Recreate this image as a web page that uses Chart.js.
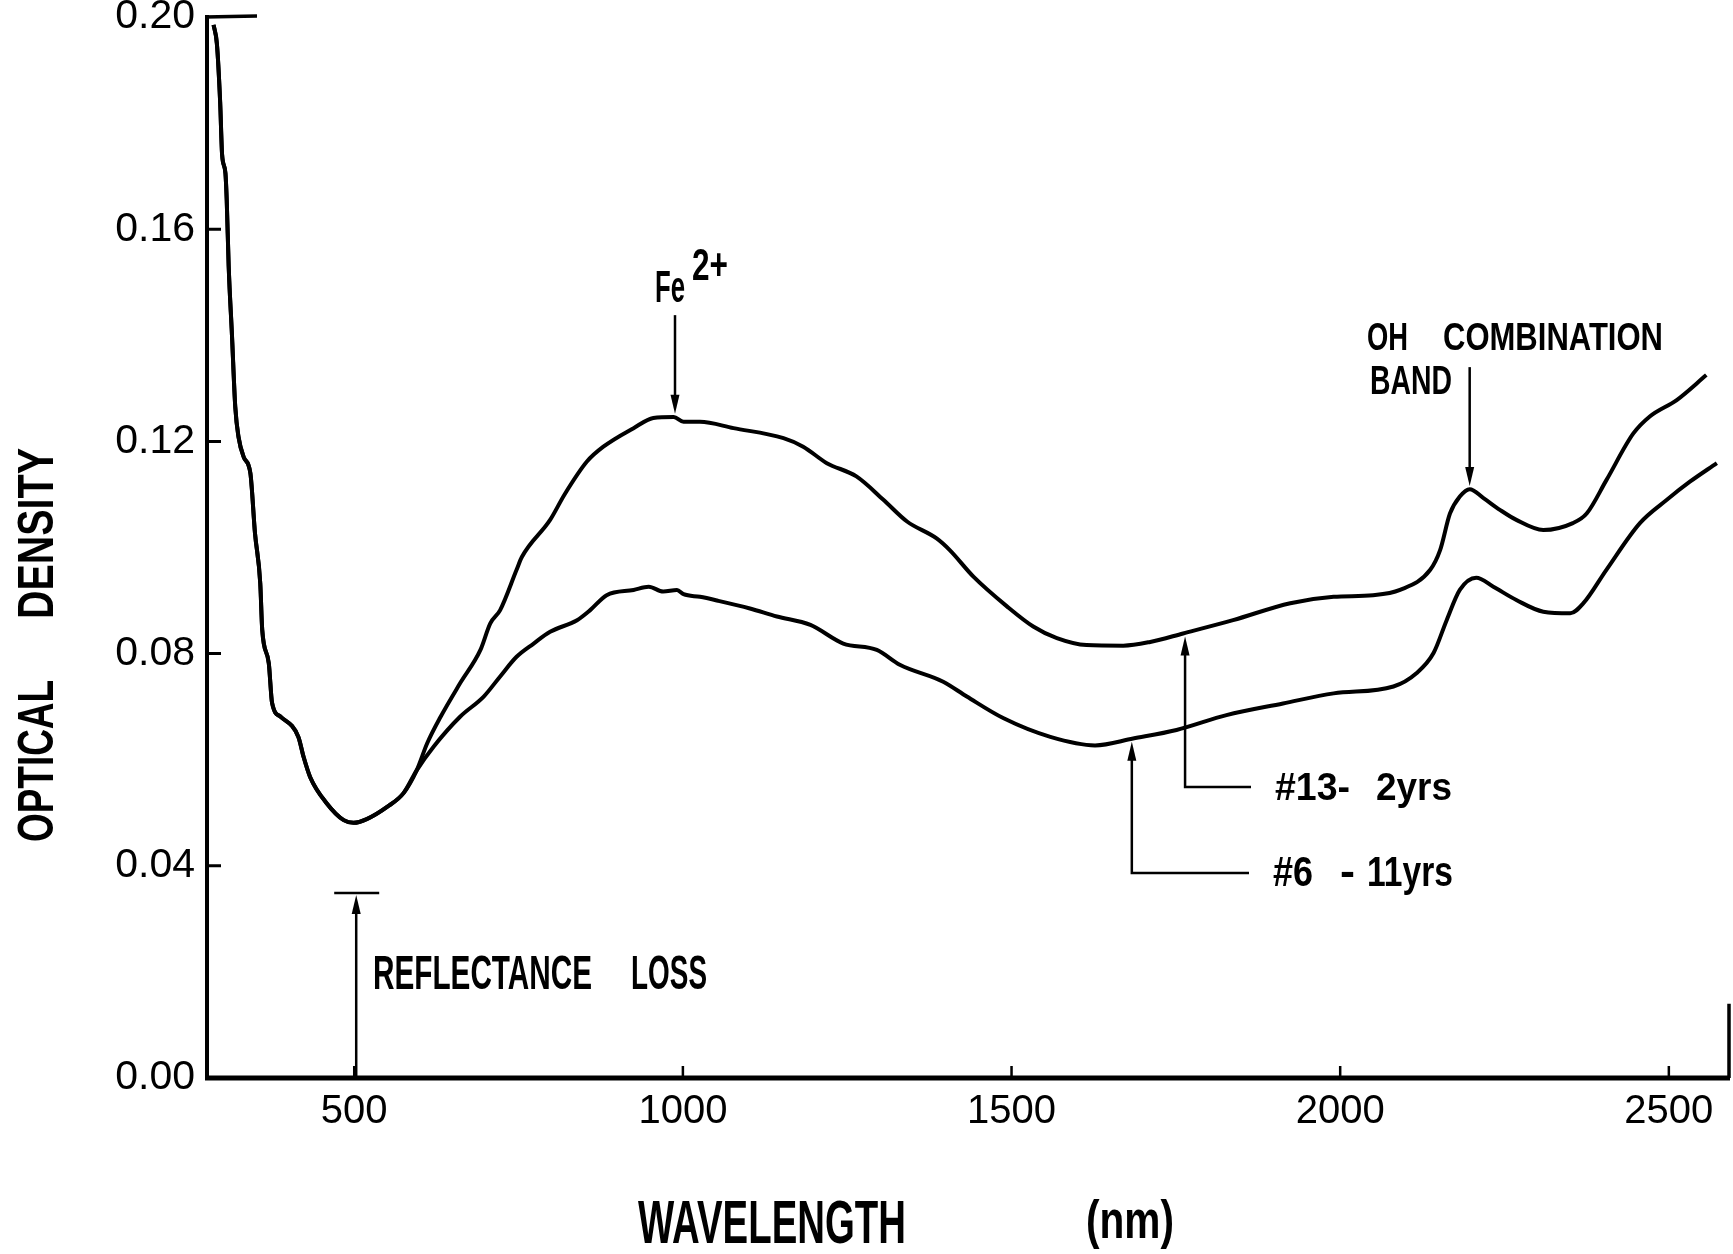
<!DOCTYPE html>
<html>
<head>
<meta charset="utf-8">
<script src="https://cdn.jsdelivr.net/npm/chart.js@4.4.1/dist/chart.umd.min.js"></script>
<style>
  body { margin: 0; background: #fff; }
  canvas { display: block; background: #fff; }
</style>
</head>
<body>
<canvas id="myChart" width="1733" height="1254"></canvas>
<script>
// wavelength (nm) / optical density
// both samples share the same trace up to about 600 nm
const sharedWavelength = [286, 291, 296, 299, 304, 306, 309, 314, 319, 324, 332, 342, 349, 357, 360, 370, 375, 388, 415, 423, 433, 458, 484, 499, 519, 550, 575, 595];
const sharedDensity = [0.1985, 0.195, 0.184, 0.174, 0.1706, 0.1655, 0.153, 0.140, 0.1265, 0.1208, 0.117, 0.114, 0.1027, 0.0933, 0.0845, 0.0782, 0.0707, 0.0681, 0.0643, 0.0605, 0.0567, 0.0518, 0.0486, 0.0481, 0.0488, 0.0511, 0.0537, 0.058];

// #13 - 2 yrs
const yrs2Wavelength = [611, 631, 661, 692, 707, 722, 747, 755, 798, 820, 854, 879, 925, 955, 986, 1001, 1026, 1077, 1153, 1183, 1219, 1264, 1305, 1341, 1386, 1406, 1442, 1493, 1533, 1569, 1614, 1670, 1711, 1761, 1837, 1924, 1990, 2050, 2091, 2137, 2152, 2167, 2182, 2197, 2218, 2243, 2268, 2309, 2354, 2375, 2405, 2446, 2471, 2512, 2557];
const yrs2Density = [0.0631, 0.068, 0.0744, 0.0807, 0.0857, 0.0882, 0.0958, 0.0982, 0.1052, 0.110, 0.1162, 0.119, 0.1225, 0.1244, 0.1246, 0.1237, 0.1237, 0.1225, 0.1206, 0.119, 0.1159, 0.1134, 0.109, 0.1049, 0.1017, 0.0995, 0.0945, 0.0889, 0.0851, 0.0829, 0.0816, 0.0815, 0.0822, 0.0838, 0.0863, 0.0895, 0.0907, 0.091, 0.092, 0.0958, 0.0995, 0.1064, 0.1096, 0.111, 0.1093, 0.1071, 0.1052, 0.1033, 0.1046, 0.1064, 0.1127, 0.1215, 0.1247, 0.1278, 0.1325];

// #6 - 11 yrs
const yrs11Wavelength = [621, 661, 697, 722, 747, 773, 798, 839, 859, 884, 925, 948, 970, 991, 1001, 1026, 1052, 1102, 1143, 1194, 1244, 1295, 1330, 1396, 1432, 1488, 1559, 1627, 1685, 1751, 1827, 1913, 1990, 2081, 2116, 2142, 2162, 2182, 2207, 2233, 2268, 2309, 2350, 2370, 2405, 2456, 2497, 2532, 2573];
const yrs11Density = [0.0625, 0.0681, 0.0719, 0.0757, 0.0794, 0.0819, 0.0841, 0.0863, 0.0882, 0.091, 0.092, 0.0926, 0.0917, 0.092, 0.0912, 0.0907, 0.09, 0.0885, 0.087, 0.0854, 0.0819, 0.0807, 0.0779, 0.0747, 0.0719, 0.0678, 0.0643, 0.0627, 0.064, 0.0656, 0.0684, 0.0706, 0.0725, 0.0738, 0.0763, 0.0801, 0.0863, 0.092, 0.0943, 0.0926, 0.0901, 0.0879, 0.0876, 0.0895, 0.0958, 0.1046, 0.109, 0.1124, 0.1159];

const xTickValues = [500, 1000, 1500, 2000, 2500];
const yTickValues = [0, 0.04, 0.08, 0.12, 0.16, 0.20];

const toPoints = (xs, ys) => xs.map((x, i) => ({ x: x, y: ys[i] }));
const FONT = '"Liberation Sans", Arial, sans-serif';

// squeeze text to a given width, the original lettering is very condensed
function condensed(ctx, text, x, y, size, width, bold) {
  ctx.save();
  ctx.font = (bold ? 'bold ' : '') + size + 'px ' + FONT;
  const w = ctx.measureText(text).width;
  ctx.translate(x, y);
  ctx.scale(width / w, 1);
  ctx.textBaseline = 'alphabetic';
  ctx.textAlign = 'left';
  ctx.fillText(text, 0, 0);
  ctx.restore();
}

function arrowHead(ctx, x, tipY, dir) {
  // dir 1 = pointing down, -1 = pointing up
  ctx.beginPath();
  ctx.moveTo(x, tipY);
  ctx.lineTo(x - 4.5, tipY - dir * 19);
  ctx.lineTo(x + 4.5, tipY - dir * 19);
  ctx.closePath();
  ctx.fill();
}

const notes = {
  id: 'notes',
  afterDraw(chart) {
    const ctx = chart.ctx;
    const xs = chart.scales.x, ys = chart.scales.y;
    const a = chart.chartArea;
    ctx.save();
    ctx.strokeStyle = '#000';
    ctx.fillStyle = '#000';
    ctx.lineCap = 'butt';

    // axes
    ctx.lineWidth = 4;
    ctx.beginPath();
    ctx.moveTo(a.left, a.top - 2);
    ctx.lineTo(a.left, a.bottom + 2);
    ctx.stroke();
    ctx.lineWidth = 5;
    ctx.beginPath();
    ctx.moveTo(a.left - 2, a.bottom);
    ctx.lineTo(a.right + 2, a.bottom);
    ctx.stroke();
    // top bar at 0.20 and small right edge stub
    ctx.lineWidth = 3.5;
    ctx.beginPath();
    ctx.moveTo(a.left - 2, ys.getPixelForValue(0.2));
    ctx.lineTo(a.left + 50, ys.getPixelForValue(0.2) - 1);
    ctx.moveTo(a.right + 1, a.bottom);
    ctx.lineTo(a.right + 1, ys.getPixelForValue(0.014));
    ctx.stroke();

    // inward tick marks
    ctx.lineWidth = 3;
    ctx.beginPath();
    yTickValues.filter(v => v > 0 && v < 0.2).forEach(v => {
      const py = ys.getPixelForValue(v);
      ctx.moveTo(a.left, py);
      ctx.lineTo(a.left + 14, py);
    });
    ctx.stroke();
    ctx.lineWidth = 2.5;
    ctx.beginPath();
    xTickValues.forEach(v => {
      const px = xs.getPixelForValue(v);
      ctx.moveTo(px, a.bottom);
      ctx.lineTo(px, a.bottom - 12);
    });
    ctx.stroke();

    ctx.lineWidth = 2.5;
    // Fe2+ arrow
    let ax = xs.getPixelForValue(988);
    let tip = ys.getPixelForValue(0.1252);
    ctx.beginPath();
    ctx.moveTo(ax, ys.getPixelForValue(0.1438));
    ctx.lineTo(ax, tip - 10);
    ctx.stroke();
    arrowHead(ctx, ax, tip, 1);
    condensed(ctx, 'Fe', 655, 302, 44, 30, true);
    condensed(ctx, '2+', 692, 280, 44, 36, true);

    // OH combination band arrow
    ax = xs.getPixelForValue(2197);
    tip = ys.getPixelForValue(0.1116);
    ctx.beginPath();
    ctx.moveTo(ax, ys.getPixelForValue(0.134));
    ctx.lineTo(ax, tip - 10);
    ctx.stroke();
    arrowHead(ctx, ax, tip, 1);
    condensed(ctx, 'OH', 1367, 350, 38, 41, true);
    condensed(ctx, 'COMBINATION', 1443, 350, 38, 220, true);
    condensed(ctx, 'BAND', 1370, 394, 40, 82, true);

    // reflectance loss
    ax = xs.getPixelForValue(503);
    tip = ys.getPixelForValue(0.0345);
    ctx.beginPath();
    ctx.moveTo(ax, a.bottom);
    ctx.lineTo(ax, tip + 10);
    ctx.moveTo(ax - 22, tip - 2);
    ctx.lineTo(ax + 23, tip - 2);
    ctx.stroke();
    arrowHead(ctx, ax, tip, -1);
    condensed(ctx, 'REFLECTANCE', 373, 989, 48, 219, true);
    condensed(ctx, 'LOSS', 631, 989, 48, 76, true);

    // #13 leader
    ax = xs.getPixelForValue(1764);
    tip = ys.getPixelForValue(0.0832);
    ctx.beginPath();
    ctx.moveTo(ax, tip + 10);
    ctx.lineTo(ax, 787);
    ctx.lineTo(1251, 787);
    ctx.stroke();
    arrowHead(ctx, ax, tip, -1);
    condensed(ctx, '#13-', 1275, 800, 39, 75, true);
    condensed(ctx, '2yrs', 1376, 800, 39, 76, true);

    // #6 leader
    ax = xs.getPixelForValue(1683);
    tip = ys.getPixelForValue(0.0634);
    ctx.beginPath();
    ctx.moveTo(ax, tip + 10);
    ctx.lineTo(ax, 873);
    ctx.lineTo(1249, 873);
    ctx.stroke();
    arrowHead(ctx, ax, tip, -1);
    condensed(ctx, '#6', 1273, 886, 43, 40, true);
    condensed(ctx, '-', 1340, 886, 43, 15, true);
    condensed(ctx, '11yrs', 1367, 886, 43, 86, true);

    // axis titles
    condensed(ctx, 'WAVELENGTH', 638, 1243, 61, 268, true);
    condensed(ctx, '(nm)', 1086, 1238, 54, 88, true);
    ctx.save();
    ctx.translate(53, 842);
    ctx.rotate(-Math.PI / 2);
    condensed(ctx, 'OPTICAL', 0, 0, 50, 162, true);
    condensed(ctx, 'DENSITY', 842 - 619, 0, 50, 171, true);
    ctx.restore();

    ctx.restore();
  }
};

new Chart(document.getElementById('myChart'), {
  type: 'line',
  data: {
    datasets: [{
      label: '#13 - 2 yrs',
      data: toPoints(sharedWavelength.concat(yrs2Wavelength), sharedDensity.concat(yrs2Density)),
      borderColor: '#000',
      borderWidth: 4,
      pointRadius: 0,
      fill: false,
      cubicInterpolationMode: 'monotone'
    }, {
      label: '#6 - 11 yrs',
      data: toPoints(sharedWavelength.concat(yrs11Wavelength), sharedDensity.concat(yrs11Density)),
      borderColor: '#000',
      borderWidth: 4,
      pointRadius: 0,
      fill: false,
      cubicInterpolationMode: 'monotone'
    }]
  },
  options: {
    responsive: false,
    animation: false,
    layout: { padding: { top: 17, right: 5, left: 0, bottom: 0 } },
    plugins: { legend: { display: false }, tooltip: { enabled: false } },
    scales: {
      x: {
        type: 'linear',
        min: 276,
        max: 2590,
        afterFit: s => { s.height = 176; s.paddingLeft = 0; s.paddingRight = 0; },
        afterBuildTicks: s => { s.ticks = xTickValues.map(v => ({ value: v })); },
        grid: { display: false, drawTicks: false },
        border: { display: false },
        ticks: { color: '#000', padding: 10, font: { family: FONT, size: 40 }, maxRotation: 0, callback: v => String(v) }
      },
      y: {
        min: 0,
        max: 0.2,
        afterFit: s => { s.width = 207; s.paddingTop = 0; s.paddingBottom = 0; },
        afterBuildTicks: s => { s.ticks = yTickValues.map(v => ({ value: v })); },
        grid: { display: false, drawTicks: false },
        border: { display: false },
        ticks: {
          color: '#000',
          padding: 12,
          font: { family: FONT, size: 41 },
          callback: v => v.toFixed(2)
        }
      }
    }
  },
  plugins: [notes]
});
</script>
</body>
</html>
